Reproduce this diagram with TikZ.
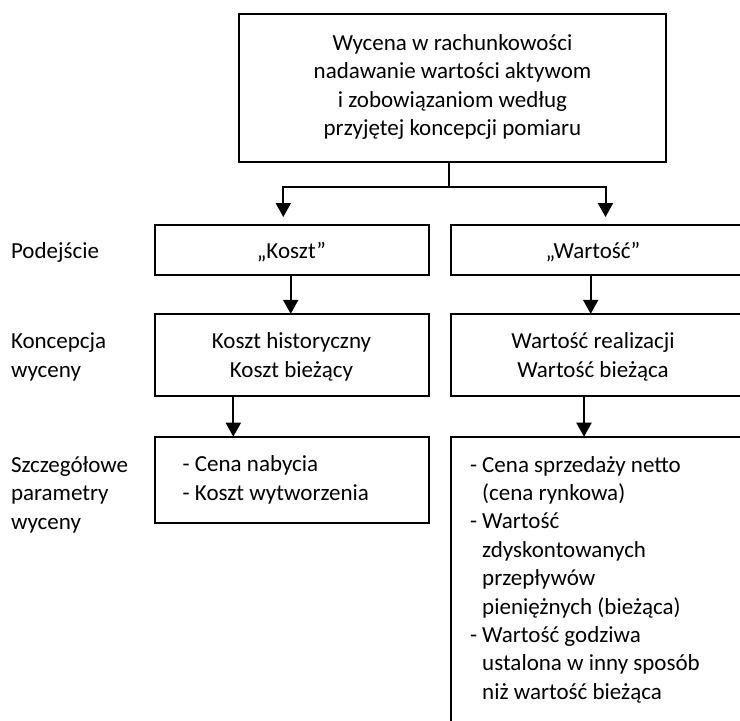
\documentclass[tikz,border=0pt]{standalone}
\usepackage{fontspec}
\setmainfont{Carlito}
\usetikzlibrary{arrows.meta}
\begin{document}
\begin{tikzpicture}[x=1pt,y=-1pt,
  every node/.style={inner sep=0pt, outer sep=0pt, font=\fontsize{23}{28.4}\selectfont},
  frame/.style={draw, line width=2pt, rectangle},
  lbl/.style={anchor=west, align=left},
  conn/.style={line width=2pt},
  arr/.style={conn, -{Triangle[width=15pt,length=14pt]}},
]
\useasboundingbox (0,0) rectangle (740,721);

% main box
\node[frame, minimum width=427pt, minimum height=147.7pt] (top) at (452.5,87.8) {};
\node[align=center] (topT) at (452.5,87.4)
  {\strut Wycena w rachunkowości\\\strut nadawanie wartości aktywom\\
   \strut i zobowiązaniom według\\\strut przyjętej koncepcji pomiaru};

% row captions
\node[lbl] (l1) at (11,253.3) {\strut Podejście};
\node[lbl] (l2) at (11,357.3) {\strut Koncepcja\\\strut wyceny};
\node[lbl] (l3) at (11,495) {\strut Szczegółowe\\\strut parametry\\\strut wyceny};

% cost column
\node[frame, minimum width=274pt, minimum height=50pt] (koszt) at (291.5,249.5) {};
\node (kosztT) at (291.5,253.3) {\strut „Koszt”};
\node[frame, minimum width=274pt, minimum height=82.3pt] (kosztK) at (291.5,355) {};
\node[align=center] (kosztKT) at (291.5,357.3) {\strut Koszt historyczny\\\strut Koszt bieżący};
\node[frame, minimum width=274pt, minimum height=86pt] (kosztP) at (291.5,479.7) {};
\node[lbl] (kosztPT) at (182.7,480.2) {\strut - Cena nabycia\\\strut - Koszt wytworzenia};

% value column (runs past the right edge)
\node[frame, minimum width=309pt, minimum height=50pt] (wart) at (605.5,249.5) {};
\node (wartT) at (593,253.3) {\strut „Wartość”};
\node[frame, minimum width=309pt, minimum height=82.3pt] (wartK) at (605.5,355) {};
\node[align=center] (wartKT) at (593,357.3) {\strut Wartość realizacji\\\strut Wartość bieżąca};
\node[frame, minimum width=309pt, minimum height=330pt, anchor=north west] (wartP) at (451,436.7) {};
\node[lbl] (wartPT) at (470,580)
  {\strut - Cena sprzedaży netto\\
   \strut\hphantom{- }(cena rynkowa)\\
   \strut - Wartość\\
   \strut\hphantom{- }zdyskontowanych\\
   \strut\hphantom{- }przepływów\\
   \strut\hphantom{- }pieniężnych (bieżąca)\\
   \strut - Wartość godziwa\\
   \strut\hphantom{- }ustalona w inny sposób\\
   \strut\hphantom{- }niż wartość bieżąca};

% connector columns
\coordinate (fork) at (449.3,186.7);
\coordinate (inK) at (283.3,217);
\coordinate (inW) at (605.5,217);
\coordinate (xK1) at (290.7,0);
\coordinate (xW1) at (590.7,0);
\coordinate (xK2) at (233.3,0);
\coordinate (xW2) at (584,0);

\draw[conn] (top.south -| fork) -- (fork);
\draw[arr] (fork) -| (inK);
\draw[arr] (fork) -| (inW);
\draw[arr] (koszt.south -| xK1) -- (kosztK.north -| xK1);
\draw[arr] (wart.south -| xW1) -- (wartK.north -| xW1);
\draw[arr] (kosztK.south -| xK2) -- (kosztP.north -| xK2);
\draw[arr] (wartK.south -| xW2) -- (wartP.north -| xW2);
\end{tikzpicture}
\end{document}
